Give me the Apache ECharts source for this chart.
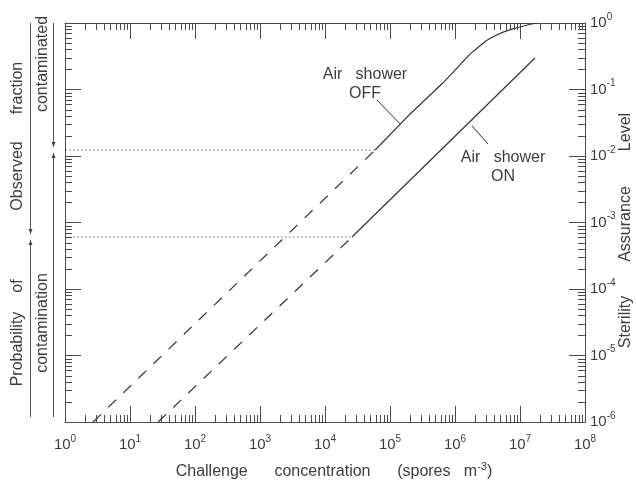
<!DOCTYPE html>
<html>
<head>
    <meta charset="utf-8">
</head>
<body style="margin: 0; background: #fff">
<div id="container" style="width: 636px; height: 484px"></div>

<script type="text/javascript" src="https://cdn.jsdelivr.net/npm/echarts@6.0.0/dist/echarts.min.js"></script>

<script type="text/javascript">
    // challenge concentration (spores m^-3) -> fraction contaminated
    var offDashed = [[2.7, 1e-6], [5.9e4, 0.0123]];
    var offSolid = [[5.9e4, 0.0123], [2e5, 0.042], [6.5e5, 0.125], [1.07e6, 0.21], [1.7e6, 0.34],
        [2.4e6, 0.45], [3.1e6, 0.55], [4.2e6, 0.65], [5.5e6, 0.73], [7.5e6, 0.81], [1e7, 0.87],
        [1.35e7, 0.94], [1.8e7, 1.0]];
    var onDashed = [[27, 1e-6], [2.6e4, 6.05e-4]];
    var onSolid = [[2.6e4, 6.05e-4], [1.7e7, 0.298]];
    // dotted levels where the observed (solid) part starts
    var offLevel = [[1, 0.0123], [5.9e4, 0.0123]];
    var onLevel = [[1, 6.05e-4], [2.6e4, 6.05e-4]];

    // axis ticks
    var xDecades = [1, 10, 100, 1e3, 1e4, 1e5, 1e6, 1e7];
    var yDecades = [1e-6, 1e-5, 1e-4, 1e-3, 1e-2, 1e-1];
    var minorSteps = [2, 3, 4, 5, 6, 7, 8, 9];
    var xExpLabels = ['0', '1', '2', '3', '4', '5', '6', '7', '8'];
    var yExpLabels = ['-6', '-5', '-4', '-3', '-2', '-1', '0'];

    // annotation text + leader lines (data coords)
    var offNote = {lines: ['Air   shower', 'OFF'], at: [4.12e4, 0.121], leader: [[6.3e4, 0.0695], [1.43e5, 0.0303]]};
    var onNote = {lines: ['Air   shower', 'ON'], at: [5.47e6, 0.00684], leader: [[1.83e6, 0.0283], [3.22e6, 0.0151]]};

    var FONT = '"Liberation Sans", Arial, sans-serif';
    var INK = '#3c3c3c';

    var xMinor = [];
    xDecades.forEach(function (d) {
        minorSteps.forEach(function (m) { xMinor.push([m * d, 1e-3]); });
    });
    var yMinor = [];
    yDecades.forEach(function (d) {
        minorSteps.forEach(function (m) { yMinor.push([10, m * d]); });
    });

    var dom = document.getElementById('container');
    var myChart = echarts.init(dom, null, {renderer: 'canvas'});

    var expRich = {
        b: {fontSize: 15, lineHeight: 22, color: INK, fontFamily: FONT},
        s: {fontSize: 10, lineHeight: 11, verticalAlign: 'top', color: INK, fontFamily: FONT}
    };

    function expFormatter(labels, lo) {
        return function (value) {
            var e = Math.round(Math.log10(value));
            return '{b|10}{s|' + labels[e - lo] + '}';
        };
    }

    function axisBase(pos) {
        return {
            type: 'log',
            logBase: 10,
            interval: 1,
            position: pos,
            axisLine: {show: true, lineStyle: {color: '#4a4a4a', width: 1}},
            axisTick: {show: true, inside: true, length: 16, lineStyle: {color: '#4a4a4a', width: 1}},
            splitLine: {show: false},
            axisLabel: {show: false}
        };
    }

    var xBottom = axisBase('bottom');
    xBottom.min = 1; xBottom.max = 1e8;
    xBottom.axisLabel = {show: true, margin: 12, formatter: expFormatter(xExpLabels, 0), rich: expRich};
    var xTop = axisBase('top');
    xTop.min = 1; xTop.max = 1e8;
    var yLeft = axisBase('left');
    yLeft.min = 1e-6; yLeft.max = 1;
    var yRight = axisBase('right');
    yRight.min = 1e-6; yRight.max = 1;
    yRight.axisLabel = {show: true, margin: 5, formatter: expFormatter(yExpLabels, -6), rich: expRich};

    function plain(name, data, type) {
        return {
            name: name,
            type: 'line',
            data: data,
            showSymbol: false,
            symbol: 'none',
            silent: true,
            lineStyle: {color: '#333', width: type === 'dotted' ? 1 : 1.2,
                type: type === 'dashed' ? [11, 10] : (type === 'dotted' ? [1.5, 2.5] : 'solid'),
                opacity: type === 'dotted' ? 0.75 : 1}
        };
    }

    function leader(n) {
        return {
            silent: true,
            symbol: 'none',
            label: {show: false},
            lineStyle: {color: '#333', width: 1, type: 'solid'},
            data: [[{coord: n.leader[0]}, {coord: n.leader[1]}]]
        };
    }

    function minorTicks(data, axis) {
        return {
            type: 'custom',
            silent: true,
            animation: false,
            data: data,
            renderItem: function (params, api) {
                var v = api.value(axis === 'x' ? 0 : 1);
                var a, b, d = 7;
                var st = {stroke: '#4a4a4a', lineWidth: 1};
                if (axis === 'x') {
                    a = api.coord([v, 1e-6]);
                    b = api.coord([v, 1]);
                    var x = Math.round(a[0]) + 0.5;
                    return {type: 'group', children: [
                        {type: 'line', shape: {x1: x, y1: a[1], x2: x, y2: a[1] - d}, style: st},
                        {type: 'line', shape: {x1: x, y1: b[1], x2: x, y2: b[1] + d}, style: st}
                    ]};
                }
                a = api.coord([1, v]);
                b = api.coord([1e8, v]);
                var y = Math.round(a[1]) + 0.5;
                return {type: 'group', children: [
                    {type: 'line', shape: {x1: a[0], y1: y, x2: a[0] + d, y2: y}, style: st},
                    {type: 'line', shape: {x1: b[0], y1: y, x2: b[0] - d, y2: y}, style: st}
                ]};
            }
        };
    }

    var offSolidSeries = plain('off', offSolid, 'solid');
    offSolidSeries.markLine = leader(offNote);
    var onSolidSeries = plain('on', onSolid, 'solid');
    onSolidSeries.markLine = leader(onNote);

    var option = {
        animation: false,
        backgroundColor: '#fff',
        textStyle: {fontFamily: FONT},
        grid: {left: 65, right: 51, top: 23, bottom: 62, containLabel: false},
        xAxis: [xBottom, xTop],
        yAxis: [yLeft, yRight],
        series: [
            plain('offLevel', offLevel, 'dotted'),
            plain('onLevel', onLevel, 'dotted'),
            plain('offDashed', offDashed, 'dashed'),
            plain('onDashed', onDashed, 'dashed'),
            offSolidSeries,
            onSolidSeries,
            minorTicks(xMinor, 'x'),
            minorTicks(yMinor, 'y')
        ]
    };
    myChart.setOption(option);

    // side titles, curve notes and range markers
    var offY = myChart.convertToPixel({yAxisIndex: 0}, offLevel[0][1]);
    var onY = myChart.convertToPixel({yAxisIndex: 0}, onLevel[0][1]);
    var topY = myChart.convertToPixel({yAxisIndex: 0}, 1);
    var botY = myChart.convertToPixel({yAxisIndex: 0}, 1e-6) - 5;

    function vtext(x, y, text) {
        return {
            type: 'text', x: x, y: y, rotation: Math.PI / 2, silent: true,
            style: {text: text, fill: INK, font: '16px ' + FONT, align: 'center', verticalAlign: 'middle'}
        };
    }
    function vline(x, y1, y2) {
        return {type: 'line', silent: true, shape: {x1: x, y1: y1, x2: x, y2: y2}, style: {stroke: '#555', lineWidth: 1}};
    }
    function arrow(x, y, dir) {
        return {type: 'polygon', silent: true,
            shape: {points: [[x - 2, y - 5 * dir], [x + 2, y - 5 * dir], [x, y]]},
            style: {fill: '#444'}};
    }
    function noteText(n) {
        var p = myChart.convertToPixel({xAxisIndex: 0, yAxisIndex: 0}, n.at);
        return {
            type: 'text', x: p[0], y: p[1], silent: true,
            style: {text: n.lines.join('\n'), fill: INK, font: '16px ' + FONT, lineHeight: 19,
                align: 'center', verticalAlign: 'middle'}
        };
    }

    myChart.setOption({
        graphic: [
            vline(30.5, topY, onY - 3), arrow(30.5, onY - 3, 1),
            vline(30.5, onY + 3, botY), arrow(30.5, onY + 3, -1),
            vline(53.5, topY, offY - 3), arrow(53.5, offY - 3, 1),
            vline(53.5, offY + 3, botY), arrow(53.5, offY + 3, -1),
            vtext(18, 88, 'fraction'),
            vtext(18, 176, 'Observed'),
            vtext(43, 64, 'contaminated'),
            vtext(18, 286, 'of'),
            vtext(18, 349, 'Probability'),
            vtext(43, 323, 'contamination'),
            vtext(626, 132, 'Level'),
            vtext(626, 224, 'Assurance'),
            vtext(626, 322, 'Sterility'),
            noteText(offNote),
            noteText(onNote),
            {
                type: 'text', x: 334, y: 472, silent: true,
                style: {
                    text: '{t|Challenge      concentration      (spores   m}{s|-3}{t|)}',
                    align: 'center', verticalAlign: 'middle',
                    rich: {
                        t: {fontSize: 16, lineHeight: 22, fill: INK, fontFamily: FONT},
                        s: {fontSize: 11, lineHeight: 12, verticalAlign: 'top', fill: INK, fontFamily: FONT}
                    }
                }
            }
        ]
    });

    window.addEventListener('resize', myChart.resize);
</script>
</body>
</html>
